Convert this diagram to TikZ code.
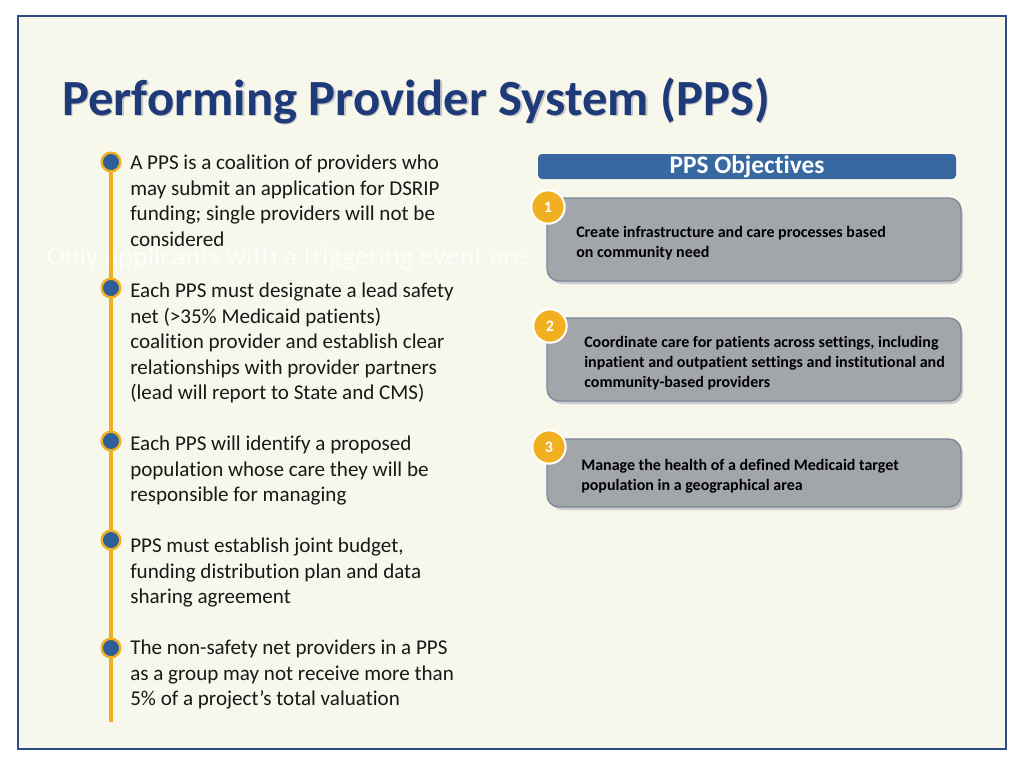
\documentclass[tikz,border=0pt]{standalone}
\usepackage{fontspec}
\setmainfont{Carlito}[Ligatures=NoCommon]
\begin{document}
\begin{tikzpicture}[x=0.75pt,y=-0.75pt,
  body/.style={anchor=north west,align=left,font=\fontsize{15.8}{19.1}\selectfont,inner sep=0pt,text=black!90},
  num/.style={circle,draw=white,line width=1.5pt,minimum size=25pt,inner sep=0pt,text=white,font=\bfseries\fontsize{12}{12}\selectfont},
  objtxt/.style={anchor=north west,align=left,inner sep=0pt,font=\bfseries\fontsize{12}{15}\selectfont}]
\definecolor{frame}{HTML}{2E4C85}
\definecolor{bg}{HTML}{F7F7EC}
\definecolor{ttl}{HTML}{1F3A78}
\definecolor{hdr}{HTML}{3868A0}
\definecolor{boxf}{HTML}{A2A5AA}
\definecolor{boxd}{HTML}{7D8798}
\definecolor{gold}{HTML}{F0B020}
\definecolor{dotb}{HTML}{2F5F98}
\useasboundingbox (0,0) rectangle (1024,768);
\fill[white] (0,0) rectangle (1024,768);
\draw[frame,line width=2.2pt,fill=bg] (18,16) rectangle (1006,749);
\node[anchor=base west,inner sep=0pt,text=gray!45,font=\bfseries\fontsize{38}{40}\selectfont] at (63.5,116.5) {Performing Provider System (PPS)};
\node (title)[anchor=base west,inner sep=0pt,text=ttl,font=\bfseries\fontsize{38}{40}\selectfont] at (62,115) {Performing Provider System (PPS)};
\node (faint)[anchor=west,inner sep=0pt,text=white,opacity=0.8,font=\fontsize{21}{24}\selectfont] at (46,258) {Only applicants with a triggering event are};
\coordinate (ltop) at (111,162);
\coordinate (lbot) at (111,722);
\draw[gold,line width=3.5pt] (ltop) -- (lbot);
\foreach \n/\y in {a/162,b/288,c/441,d/540,e/648}
  \node[circle,fill=dotb,draw=gold,line width=1.8pt,minimum size=14pt,inner sep=0pt] (d\n) at (111,\y) {};
\node (ta)[body] at (130,155) {A PPS is a coalition of providers who\\may submit an application for DSRIP\\funding; single providers will not be\\considered};
\node (tb)[body] at (130,283) {Each PPS must designate a lead safety\\net (>35\% Medicaid patients)\\coalition provider and establish clear\\relationships with provider partners\\(lead will report to State and CMS)};
\node (tc)[body] at (130,436) {Each PPS will identify a proposed\\population whose care they will be\\responsible for managing};
\node (td)[body] at (130,538) {PPS must establish joint budget,\\funding distribution plan and data\\sharing agreement};
\node (te)[body] at (130,640) {The non-safety net providers in a PPS\\as a group may not receive more than\\5\% of a project’s total valuation};
\fill[hdr,rounded corners=3pt] (538,154) rectangle (956,179);
\node (hdr)[text=white,font=\bfseries\fontsize{19}{20}\selectfont,inner sep=0pt] at (747,167) {PPS Objectives};
\foreach \i/\t/\b in {1/198/281,2/318/401,3/439/507}{
  \fill[gray!40,rounded corners=9pt] (550,\t+3) rectangle (963,\b+3);
  \draw[boxd,line width=1pt,fill=boxf,rounded corners=9pt] (547,\t) rectangle (961,\b);
}
\node (n1)[num,fill=gold] at (548,207) {1};
\node (n2)[num,fill=gold] at (550,326) {2};
\node (n3)[num,fill=gold] at (549,447) {3};
\node (o1)[objtxt] at (576,226) {Create infrastructure and care processes based\\on community need};
\node (o2)[objtxt] at (584,336) {Coordinate care for patients across settings, including\\inpatient and outpatient settings and institutional and\\community-based providers};
\node (o3)[objtxt] at (581,459) {Manage the health of a defined Medicaid target\\population in a geographical area};
\end{tikzpicture}
\end{document}
